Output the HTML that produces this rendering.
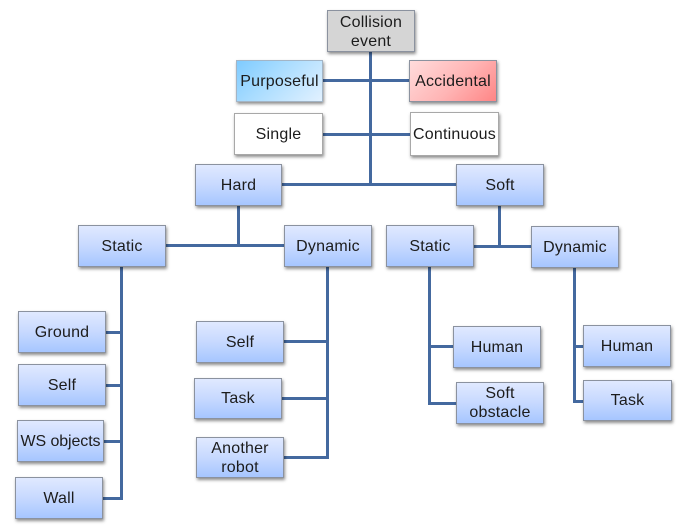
<!DOCTYPE html>
<html><head><meta charset="utf-8"><style>
html,body{margin:0;padding:0;background:#fff}
#c{position:relative;width:684px;height:531px;overflow:hidden;background:#fff;font-family:"Liberation Sans",sans-serif;filter:blur(.35px)}
.b{position:absolute;box-sizing:border-box;display:flex;align-items:center;justify-content:center;text-align:center;font-size:16px;line-height:19px;color:#1c1c1c;letter-spacing:.2px;border:1px solid #8b929f;box-shadow:1px 2px 3px rgba(0,0,0,.45);background:linear-gradient(180deg,#e0e9ff 0%,#c7d9ff 50%,#a6c6ff 100%)}
.l{position:absolute;background:#44699f}
.w{background:#fff;border-color:#a8a8a8}
</style></head><body><div id="c">
<div class="l" style="left:369px;top:52px;width:3px;height:134px"></div>
<div class="l" style="left:323px;top:79px;width:86px;height:3px"></div>
<div class="l" style="left:322px;top:133px;width:88px;height:3px"></div>
<div class="l" style="left:282px;top:183px;width:175px;height:3px"></div>
<div class="l" style="left:237px;top:206px;width:3px;height:40px"></div>
<div class="l" style="left:165px;top:244px;width:119px;height:3px"></div>
<div class="l" style="left:120px;top:267px;width:3px;height:233px"></div>
<div class="l" style="left:106px;top:331px;width:15px;height:3px"></div>
<div class="l" style="left:106px;top:384px;width:15px;height:3px"></div>
<div class="l" style="left:104px;top:440px;width:17px;height:3px"></div>
<div class="l" style="left:103px;top:497px;width:19px;height:3px"></div>
<div class="l" style="left:326px;top:267px;width:3px;height:192px"></div>
<div class="l" style="left:284px;top:340px;width:43px;height:3px"></div>
<div class="l" style="left:282px;top:397px;width:45px;height:3px"></div>
<div class="l" style="left:284px;top:456px;width:45px;height:3px"></div>
<div class="l" style="left:498px;top:206px;width:3px;height:41px"></div>
<div class="l" style="left:473px;top:245px;width:58px;height:3px"></div>
<div class="l" style="left:428px;top:267px;width:3px;height:138px"></div>
<div class="l" style="left:430px;top:345px;width:23px;height:3px"></div>
<div class="l" style="left:428px;top:402px;width:28px;height:3px"></div>
<div class="l" style="left:573px;top:267px;width:3px;height:136px"></div>
<div class="l" style="left:575px;top:345px;width:8px;height:3px"></div>
<div class="l" style="left:573px;top:400px;width:11px;height:3px"></div>

<div class="b" style="left:327px;top:10px;width:88px;height:42px;padding-top:2px;background:#d5d5d5">Collision<br>event</div>
<div class="b" style="left:236px;top:60px;width:87px;height:42px;background:linear-gradient(135deg,#7fcbff 0%,#a8dcff 40%,#e2f1ff 100%);border-color:#a3b5c6">Purposeful</div>
<div class="b" style="left:409px;top:60px;width:88px;height:42px;background:linear-gradient(135deg,#ffdcdc 0%,#ffb4b4 55%,#ff8585 100%)">Accidental</div>
<div class="b w" style="left:234px;top:113px;width:89px;height:42px">Single</div>
<div class="b w" style="left:410px;top:112px;width:89px;height:44px">Continuous</div>
<div class="b" style="left:195px;top:164px;width:87px;height:42px">Hard</div>
<div class="b" style="left:456px;top:164px;width:88px;height:42px">Soft</div>
<div class="b" style="left:78px;top:225px;width:88px;height:42px">Static</div>
<div class="b" style="left:284px;top:225px;width:88px;height:42px">Dynamic</div>
<div class="b" style="left:386px;top:225px;width:88px;height:42px">Static</div>
<div class="b" style="left:531px;top:226px;width:88px;height:42px">Dynamic</div>
<div class="b" style="left:18px;top:311px;width:88px;height:42px">Ground</div>
<div class="b" style="left:18px;top:364px;width:88px;height:42px">Self</div>
<div class="b" style="left:17px;top:420px;width:87px;height:42px;letter-spacing:-.1px">WS objects</div>
<div class="b" style="left:15px;top:477px;width:88px;height:42px">Wall</div>
<div class="b" style="left:196px;top:321px;width:88px;height:42px">Self</div>
<div class="b" style="left:194px;top:378px;width:88px;height:41px">Task</div>
<div class="b" style="left:196px;top:437px;width:88px;height:41px">Another<br>robot</div>
<div class="b" style="left:453px;top:326px;width:88px;height:42px">Human</div>
<div class="b" style="left:456px;top:382px;width:88px;height:42px">Soft<br>obstacle</div>
<div class="b" style="left:583px;top:325px;width:88px;height:42px">Human</div>
<div class="b" style="left:583px;top:380px;width:89px;height:41px">Task</div>
</div></body></html>
